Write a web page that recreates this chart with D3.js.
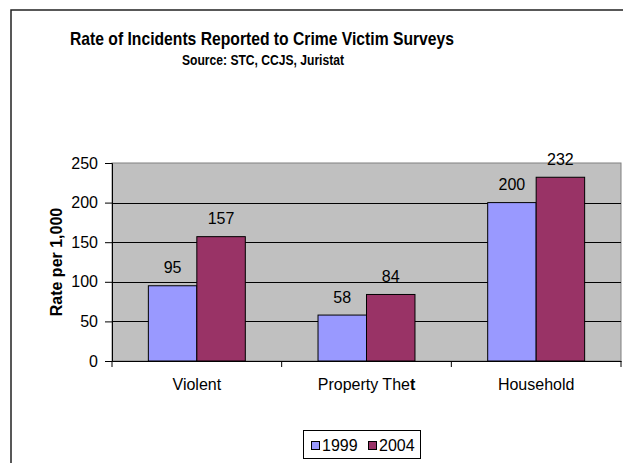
<!DOCTYPE html>
<html>
<head>
<meta charset="utf-8">
<script src="https://cdn.jsdelivr.net/npm/d3@7"></script>
<style>
  body { margin: 0; background: #fff; }
  text { font-family: "Liberation Sans", Arial, sans-serif; fill: #000; }
</style>
</head>
<body>
<div id="chart"></div>
<script>
// data
var categories = ["Violent", "Property Theft", "Household"];
var seriesNames = ["1999", "2004"];
var values1999 = [95, 58, 200];
var values2004 = [157, 84, 232];
var yTicks = [0, 50, 100, 150, 200, 250];

var colors = {"1999": "#9999ff", "2004": "#993366"};

var svgWidth = 623;
var svgHeight = 463;

// plot area (excel style, gray back)
var plot = {left: 112, right: 621, top: 163, bottom: 361};

var svg = d3.select("#chart")
  .append("svg")
  .attr("width", svgWidth)
  .attr("height", svgHeight);

// outer frame of the chart
svg.append("rect")
  .attr("x", 11)
  .attr("y", 10)
  .attr("width", 700)
  .attr("height", 600)
  .attr("fill", "none")
  .attr("stroke", "#222")
  .attr("stroke-width", 1.5);

// title
svg.append("text")
  .attr("x", 262)
  .attr("y", 45)
  .attr("text-anchor", "middle")
  .attr("font-size", 19)
  .attr("font-weight", "bold")
  .attr("textLength", 384)
  .attr("lengthAdjust", "spacingAndGlyphs")
  .text("Rate of Incidents Reported to Crime Victim Surveys");

svg.append("text")
  .attr("x", 263)
  .attr("y", 65)
  .attr("text-anchor", "middle")
  .attr("font-size", 14)
  .attr("font-weight", "bold")
  .attr("textLength", 162)
  .attr("lengthAdjust", "spacingAndGlyphs")
  .text("Source: STC, CCJS, Juristat");

// scales
var x0 = d3.scaleBand()
  .domain(categories)
  .range([plot.left, plot.right])
  .paddingInner(1.5 / 3.5)
  .paddingOuter(0.75 / 3.5);

var x1 = d3.scaleBand()
  .domain(seriesNames)
  .range([0, x0.bandwidth()]);

var y = d3.scaleLinear()
  .domain([0, 250])
  .range([plot.bottom, plot.top]);

// plot background
svg.append("rect")
  .attr("x", plot.left)
  .attr("y", plot.top)
  .attr("width", plot.right - plot.left)
  .attr("height", plot.bottom - plot.top)
  .attr("fill", "#c0c0c0")
  .attr("stroke", "#808080")
  .attr("stroke-width", 1);

// gridlines
svg.append("g")
  .selectAll("line")
  .data(yTicks.filter(d => d > 0 && d < 250))
  .enter()
  .append("line")
  .attr("x1", plot.left)
  .attr("x2", plot.right)
  .attr("y1", d => Math.round(y(d)) + 0.5)
  .attr("y2", d => Math.round(y(d)) + 0.5)
  .attr("stroke", "#000")
  .attr("stroke-width", 1);

// bars
var rows = categories.map(function(c, i) {
  return {category: c, values: [
    {key: "1999", value: values1999[i]},
    {key: "2004", value: values2004[i]}
  ]};
});

var groups = svg.append("g")
  .selectAll("g")
  .data(rows)
  .enter()
  .append("g")
  .attr("transform", d => `translate(${x0(d.category)},0)`);

groups.selectAll("rect")
  .data(d => d.values)
  .enter()
  .append("rect")
  .attr("x", d => x1(d.key))
  .attr("y", d => y(d.value))
  .attr("width", x1.bandwidth())
  .attr("height", d => y(0) - y(d.value))
  .attr("fill", d => colors[d.key])
  .attr("stroke", "#000")
  .attr("stroke-width", 1);

groups.selectAll("text")
  .data(d => d.values)
  .enter()
  .append("text")
  .attr("x", d => x1(d.key) + x1.bandwidth() / 2)
  .attr("y", d => y(d.value) - 12.5)
  .attr("text-anchor", "middle")
  .attr("font-size", 16)
  .attr("fill", "#111")
  .text(d => d.value);

// y axis
var leftAxis = d3.axisLeft(y)
  .tickValues(yTicks)
  .tickSize(7)
  .tickPadding(7);

var gy = svg.append("g")
  .attr("transform", `translate(${plot.left},0)`)
  .call(leftAxis);
gy.select(".domain").attr("stroke", "#000");
gy.selectAll("text")
  .attr("font-size", 16)
  .attr("font-family", "Liberation Sans, Arial, sans-serif")
  .attr("fill", "#111");

// x axis: ticks on the category boundaries
var bottomAxis = d3.axisBottom(x0).tickSize(0).tickPadding(18);
var gx = svg.append("g")
  .attr("transform", `translate(0,${plot.bottom})`)
  .call(bottomAxis);
gx.select(".domain").attr("stroke", "#000");
gx.selectAll("text")
  .attr("font-size", 16)
  .attr("font-family", "Liberation Sans, Arial, sans-serif")
  .attr("fill", "#111")
  .text(null)
  .each(function(d) {
    var t = d3.select(this);
    if (d === "Property Theft") {
      t.append("tspan").text("Property The");
      t.append("tspan").attr("font-weight", "bold").text("t");
    } else {
      t.text(d);
    }
  });

var step = x0.step();
gx.selectAll(".boundary")
  .data(d3.range(categories.length + 1))
  .enter()
  .append("line")
  .attr("class", "boundary")
  .attr("x1", i => plot.left + i * step)
  .attr("x2", i => plot.left + i * step)
  .attr("y1", 0)
  .attr("y2", 6)
  .attr("stroke", "#000");

// y axis title
svg.append("text")
  .attr("transform", "rotate(-90)")
  .attr("x", -262)
  .attr("y", 62)
  .attr("text-anchor", "middle")
  .attr("font-size", 16)
  .attr("font-weight", "bold")
  .text("Rate per 1,000");

// legend
var legend = svg.append("g");
legend.append("rect")
  .attr("x", 303.5)
  .attr("y", 430.5)
  .attr("width", 117)
  .attr("height", 28)
  .attr("fill", "#fff")
  .attr("stroke", "#000");

var legendX = [311, 368];
var items = legend.selectAll(".item")
  .data(seriesNames)
  .enter()
  .append("g")
  .attr("class", "item")
  .attr("transform", (d, i) => `translate(${legendX[i]},0)`);

items.append("rect")
  .attr("x", 0.5)
  .attr("y", 441.5)
  .attr("width", 8)
  .attr("height", 8)
  .attr("fill", d => colors[d])
  .attr("stroke", "#000");

items.append("text")
  .attr("x", 11)
  .attr("y", 451)
  .attr("font-size", 16)
  .attr("fill", "#111")
  .text(d => d);
</script>
</body>
</html>
